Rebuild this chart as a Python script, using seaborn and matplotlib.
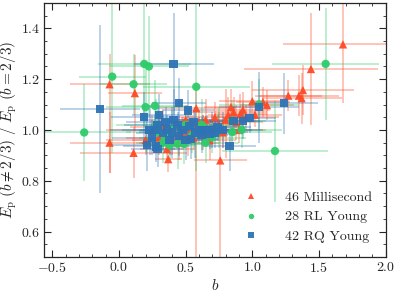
import numpy as np
import pandas as pd
import matplotlib
matplotlib.use("Agg")
import matplotlib.pyplot as plt
import seaborn as sns

# Millisecond (triangles)
msp_b = [1.68, 1.44, 1.38, 1.35, 1.37, 1.27, 1.00, 1.08, 1.11, 0.93, 0.91, 0.86, 0.84, 0.80, 0.76, 0.58,
         -0.07, 0.12, -0.07, 0.11, 0.36, 0.37, 0.47, 0.52, 0.56, 0.63, 0.70, 0.75, 0.68, 0.40, 0.30, 0.25,
         0.60, 0.78, 0.88, 0.95, 0.72, 0.65, 0.55, 0.45, 0.50, 0.82, 1.02, 0.20, 0.33, 0.90]
msp_r = [1.337, 1.24, 1.157, 1.135, 1.125, 1.135, 1.113, 1.11, 1.098, 1.08, 1.063, 1.07, 1.09, 1.04, 0.88, 1.085,
         1.18, 1.145, 0.95, 0.91, 0.925, 0.885, 0.99, 0.977, 0.97, 0.99, 1.0, 1.02, 0.96, 0.96, 0.97, 1.0,
         1.03, 0.99, 1.03, 1.05, 1.05, 1.04, 1.01, 0.95, 1.04, 1.06, 1.06, 0.96, 1.01, 1.0]
msp_xe = [0.45, 0.50, 0.38, 0.30, 0.30, 0.25, 0.25, 0.20, 0.20, 0.20, 0.20, 0.25, 0.20, 0.20, 0.20, 0.30,
          0.30, 0.20, 0.30, 0.40, 0.20, 0.10, 0.25, 0.20, 0.15, 0.20, 0.25, 0.15, 0.20, 0.30, 0.25, 0.35,
          0.20, 0.15, 0.20, 0.25, 0.30, 0.20, 0.25, 0.30, 0.20, 0.15, 0.20, 0.30, 0.25, 0.20]
msp_ylo = [0.23, 0.22, 0.10, 0.08, 0.10, 0.06, 0.08, 0.06, 0.06, 0.07, 0.08, 0.06, 0.07, 0.15, 0.40, 0.60,
           0.35, 0.15, 0.12, 0.10, 0.05, 0.05, 0.06, 0.08, 0.05, 0.07, 0.06, 0.05, 0.08, 0.06, 0.07, 0.06,
           0.05, 0.06, 0.07, 0.05, 0.06, 0.08, 0.05, 0.07, 0.06, 0.07, 0.05, 0.06, 0.07, 0.05]
msp_yhi = [0.22, 0.22, 0.10, 0.08, 0.10, 0.06, 0.08, 0.06, 0.06, 0.07, 0.08, 0.06, 0.07, 0.12, 0.12, 0.10,
           0.12, 0.15, 0.12, 0.10, 0.05, 0.05, 0.06, 0.08, 0.05, 0.07, 0.06, 0.05, 0.08, 0.06, 0.07, 0.06,
           0.05, 0.06, 0.07, 0.05, 0.06, 0.08, 0.05, 0.07, 0.06, 0.07, 0.05, 0.06, 0.07, 0.05]

# RL Young (circles)
rl_b = [-0.26, -0.05, 0.11, 0.19, 0.225, 0.20, 0.27, 0.58, 1.55, 1.05, 0.85, 0.85, 1.17, 0.33, 0.44, 0.49,
        0.28, 0.35, 0.40, 0.55, 0.62, 0.70, 0.75, 0.30, 0.50, 0.65, 0.92, 0.38]
rl_r = [0.99, 1.21, 1.18, 1.26, 1.25, 1.09, 1.095, 1.17, 1.26, 1.10, 1.036, 0.992, 0.917, 0.95, 0.945, 0.945,
        1.02, 0.97, 1.0, 0.98, 1.02, 0.97, 1.01, 0.99, 1.02, 0.95, 1.0, 0.94]
rl_xe = [0.35, 0.25, 0.25, 0.35, 0.30, 0.30, 0.25, 0.40, 0.40, 0.30, 0.25, 0.30, 0.40, 0.20, 0.25, 0.20,
         0.30, 0.20, 0.25, 0.20, 0.30, 0.25, 0.20, 0.25, 0.20, 0.25, 0.30, 0.20]
rl_ye = [0.19, 0.30, 0.12, 0.25, 0.20, 0.18, 0.10, 0.33, 0.22, 0.10, 0.08, 0.06, 0.20, 0.08, 0.10, 0.08,
         0.10, 0.06, 0.08, 0.07, 0.10, 0.06, 0.08, 0.07, 0.06, 0.08, 0.07, 0.06]

# RQ Young (squares)
rq_b = [-0.14, 0.41, 0.45, 0.19, 0.30, 0.41, 0.52, 0.23, 0.29, 0.33, 0.40, 0.45, 0.53, 0.57, 0.63, 0.54,
        0.21, 0.29, 0.28, 1.24, 1.05, 0.98, 0.93, 0.86, 0.83, 0.60, 0.66, 0.70, 0.74, 0.68, 0.78,
        0.36, 0.48, 0.25, 0.38, 0.50, 0.44, 0.72, 0.62, 0.35, 0.56, 0.27]
rq_r = [1.082, 1.26, 1.106, 1.05, 1.06, 1.04, 1.077, 1.0, 1.02, 0.988, 0.99, 0.976, 1.015, 0.99, 1.0, 0.965,
        0.94, 0.925, 0.935, 1.105, 1.09, 1.047, 1.035, 1.035, 0.937, 1.0, 1.0, 1.0, 1.01, 0.985, 1.0,
        1.0, 1.0, 0.97, 0.96, 0.96, 1.02, 0.99, 0.98, 1.03, 1.03, 1.0]
rq_xe = [0.30, 0.30, 0.20, 0.25, 0.20, 0.25, 0.20, 0.30, 0.25, 0.20, 0.25, 0.20, 0.25, 0.20, 0.25, 0.20,
         0.30, 0.20, 0.25, 0.25, 0.30, 0.20, 0.25, 0.20, 0.20, 0.25, 0.20, 0.30, 0.25, 0.20, 0.30,
         0.20, 0.25, 0.30, 0.20, 0.25, 0.20, 0.25, 0.20, 0.30, 0.20, 0.25]
rq_ye = [0.33, 0.20, 0.10, 0.10, 0.08, 0.12, 0.08, 0.10, 0.08, 0.07, 0.10, 0.08, 0.07, 0.10, 0.06, 0.08,
         0.10, 0.07, 0.06, 0.12, 0.14, 0.06, 0.07, 0.06, 0.10, 0.05, 0.06, 0.07, 0.05, 0.06, 0.07,
         0.06, 0.05, 0.07, 0.06, 0.08, 0.05, 0.06, 0.07, 0.06, 0.05, 0.06]

c_msp = "#fd4b26"
c_rl = "#2ecc6a"
c_rq = "#2e73b5"

sns.set_style("ticks")
plt.rcParams['font.family'] = 'serif'
plt.rcParams['font.serif'] = ['cmr10', 'DejaVu Serif']
plt.rcParams['mathtext.fontset'] = 'cm'
plt.rcParams['axes.formatter.use_mathtext'] = True
plt.rcParams['axes.unicode_minus'] = True

fig = plt.figure(figsize=(3.98, 2.95), dpi=100)
ax = fig.add_axes([0.111, 0.129, 0.858, 0.861])

# error bars first (light), then markers
ax.errorbar(msp_b, msp_r, xerr=msp_xe, yerr=[msp_ylo, msp_yhi], fmt='none', ecolor=c_msp,
            alpha=0.35, elinewidth=1.3, capsize=0, zorder=1)
ax.errorbar(rl_b, rl_r, xerr=rl_xe, yerr=rl_ye, fmt='none', ecolor=c_rl,
            alpha=0.35, elinewidth=1.3, capsize=0, zorder=1)
ax.errorbar(rq_b, rq_r, xerr=rq_xe, yerr=rq_ye, fmt='none', ecolor=c_rq,
            alpha=0.35, elinewidth=1.3, capsize=0, zorder=1)

df = pd.concat([
    pd.DataFrame({'b': msp_b, 'r': msp_r, 'pop': '46 Millisecond'}),
    pd.DataFrame({'b': rl_b, 'r': rl_r, 'pop': '28 RL Young'}),
    pd.DataFrame({'b': rq_b, 'r': rq_r, 'pop': '42 RQ Young'}),
], ignore_index=True)

sns.scatterplot(data=df, x='b', y='r', hue='pop', style='pop',
                markers={'46 Millisecond': '^', '28 RL Young': 'o', '42 RQ Young': 's'},
                palette={'46 Millisecond': c_msp, '28 RL Young': c_rl, '42 RQ Young': c_rq},
                s=36, linewidth=0, alpha=0.95, ax=ax, zorder=3)

ax.set_xlim(-0.56, 2.0)
ax.set_ylim(0.5, 1.5)
ax.set_xticks([-0.5, 0.0, 0.5, 1.0, 1.5, 2.0])
ax.set_yticks([0.6, 0.8, 1.0, 1.2, 1.4])
ax.xaxis.set_minor_locator(matplotlib.ticker.MultipleLocator(0.1))
ax.yaxis.set_minor_locator(matplotlib.ticker.MultipleLocator(0.05))
ax.tick_params(which='major', length=5, width=0.8, labelsize=10, pad=3, direction='in', top=True, right=True)
ax.tick_params(which='minor', length=2.5, width=0.6, direction='in', top=True, right=True)
for s in ax.spines.values():
    s.set_linewidth(0.9)

ax.set_xlabel(r'$b$', fontsize=11, labelpad=2)
ax.set_ylabel(r'$E_{\rm p}\ (b \neq 2/3)\ /\ E_{\rm p}\ (b = 2/3)$', fontsize=11, labelpad=1)

leg = ax.legend(loc='lower right', frameon=False, fontsize=10, markerscale=0.65,
                handletextpad=1.4, borderaxespad=0.6, labelspacing=0.5)

fig.savefig('out.png', dpi=100)
